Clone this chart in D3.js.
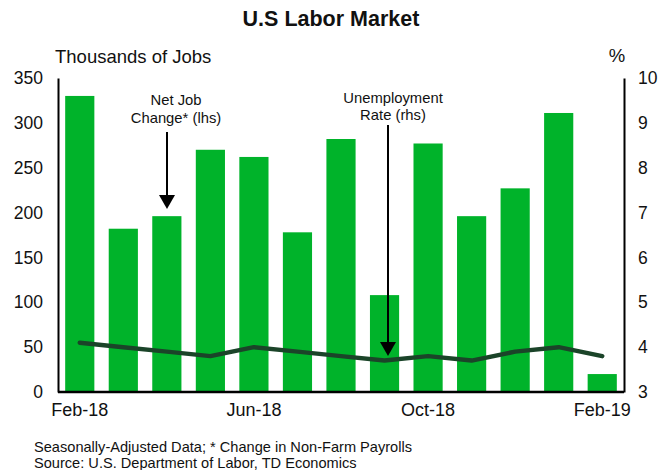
<!DOCTYPE html>
<html>
<head>
<meta charset="utf-8">
<script src="https://cdn.jsdelivr.net/npm/d3@7"></script>
<style>
  html, body { margin: 0; padding: 0; background: #fff; }
  svg { display: block; font-family: "Liberation Sans", Arial, sans-serif; }
</style>
</head>
<body>
<svg id="chart" width="660" height="470"></svg>
<script>
const months = ["Feb-18","Mar-18","Apr-18","May-18","Jun-18","Jul-18","Aug-18","Sep-18","Oct-18","Nov-18","Dec-18","Jan-19","Feb-19"];
const jobs = [330, 182, 196, 270, 262, 178, 282, 108, 277, 196, 227, 311, 20];
const unemployment = [4.1, 4.0, 3.9, 3.8, 4.0, 3.9, 3.8, 3.7, 3.8, 3.7, 3.9, 4.0, 3.8];
const leftTicks = [0, 50, 100, 150, 200, 250, 300, 350];
const rightTicks = [3, 4, 5, 6, 7, 8, 9, 10];
const xTickLabels = ["Feb-18", "Jun-18", "Oct-18", "Feb-19"];

const svg = d3.select("#chart");
const m = { left: 58, right: 624, top: 78, bottom: 392 };
const FONT = "Liberation Sans, Arial, sans-serif";

const x = d3.scaleBand().domain(months).range([m.left, m.right]).paddingInner(0.33).paddingOuter(0.165);
const yL = d3.scaleLinear().domain([0, 350]).range([m.bottom, m.top]);
const yR = d3.scaleLinear().domain([3, 10]).range([m.bottom, m.top]);

// Bars
svg.append("g").selectAll("rect").data(jobs).join("rect")
  .attr("x", (d, i) => x(months[i]))
  .attr("width", x.bandwidth())
  .attr("y", d => yL(d))
  .attr("height", d => yL(0) - yL(d))
  .attr("fill", "#00b32a");

// Line
const line = d3.line()
  .x((d, i) => x(months[i]) + x.bandwidth() / 2)
  .y(d => yR(d));
svg.append("path").datum(unemployment)
  .attr("d", line)
  .attr("fill", "none")
  .attr("stroke", "#1b4429")
  .attr("stroke-width", 4.5)
  .attr("stroke-linejoin", "round")
  .attr("stroke-linecap", "round");

// Axes
const axL = d3.axisLeft(yL).tickValues(leftTicks).tickSize(0).tickPadding(15);
const gL = svg.append("g").attr("transform", `translate(${m.left},0)`).call(axL);
gL.select(".domain").attr("stroke", "#000").attr("stroke-width", 2);
gL.selectAll("text").attr("font-size", 17.5).attr("fill", "#111").attr("font-family", FONT);

const axR = d3.axisRight(yR).tickValues(rightTicks).tickFormat(d3.format("d")).tickSize(0).tickPadding(14);
const gR = svg.append("g").attr("transform", `translate(${m.right},0)`).call(axR);
gR.select(".domain").attr("stroke", "#000").attr("stroke-width", 2);
gR.selectAll("text").attr("font-size", 17.5).attr("fill", "#111").attr("font-family", FONT);

const axB = d3.axisBottom(x).tickValues(xTickLabels).tickSize(0).tickPadding(11).tickSizeOuter(0);
const gB = svg.append("g").attr("transform", `translate(0,${m.bottom})`).call(axB);
gB.select(".domain").attr("stroke", "#000").attr("stroke-width", 2.5).attr("d", `M${m.left},0H${m.right}`);
gB.selectAll("text").attr("font-size", 18).attr("fill", "#111").attr("font-family", FONT);

// Title & axis titles
svg.append("text").attr("x", 331).attr("y", 26).attr("text-anchor", "middle")
  .attr("font-size", 21.5).attr("font-weight", "bold").attr("fill", "#111").text("U.S Labor Market");
svg.append("text").attr("x", 55).attr("y", 62.5).attr("font-size", 18.5).attr("fill", "#111").text("Thousands of Jobs");
svg.append("text").attr("x", 617).attr("y", 62).attr("text-anchor", "middle").attr("font-size", 18.5).attr("fill", "#111").text("%");

// Annotations
function annot(lines, cx, ys, ax, y1, y2) {
  lines.forEach((t, i) => svg.append("text").attr("x", cx).attr("y", ys[i]).attr("text-anchor", "middle")
    .attr("font-size", 14.8).attr("fill", "#111").text(t));
  svg.append("line").attr("x1", ax).attr("x2", ax).attr("y1", y1).attr("y2", y2 - 13)
    .attr("stroke", "#000").attr("stroke-width", 2);
  svg.append("path").attr("d", `M${ax - 8},${y2 - 14}L${ax + 8},${y2 - 14}L${ax},${y2}Z`).attr("fill", "#000");
}
annot(["Net Job", "Change* (lhs)"], 176, [105, 122.5], 167, 132, 209);
annot(["Unemployment", "Rate (rhs)"], 393, [102.5, 120], 388, 125, 356);

// Footnotes
svg.append("text").attr("x", 34).attr("y", 451.5).attr("font-size", 14.6).attr("fill", "#111")
  .text("Seasonally-Adjusted Data; * Change in Non-Farm Payrolls");
svg.append("text").attr("x", 34).attr("y", 467.5).attr("font-size", 14.6).attr("fill", "#111")
  .text("Source: U.S. Department of Labor, TD Economics");
</script>
</body>
</html>
